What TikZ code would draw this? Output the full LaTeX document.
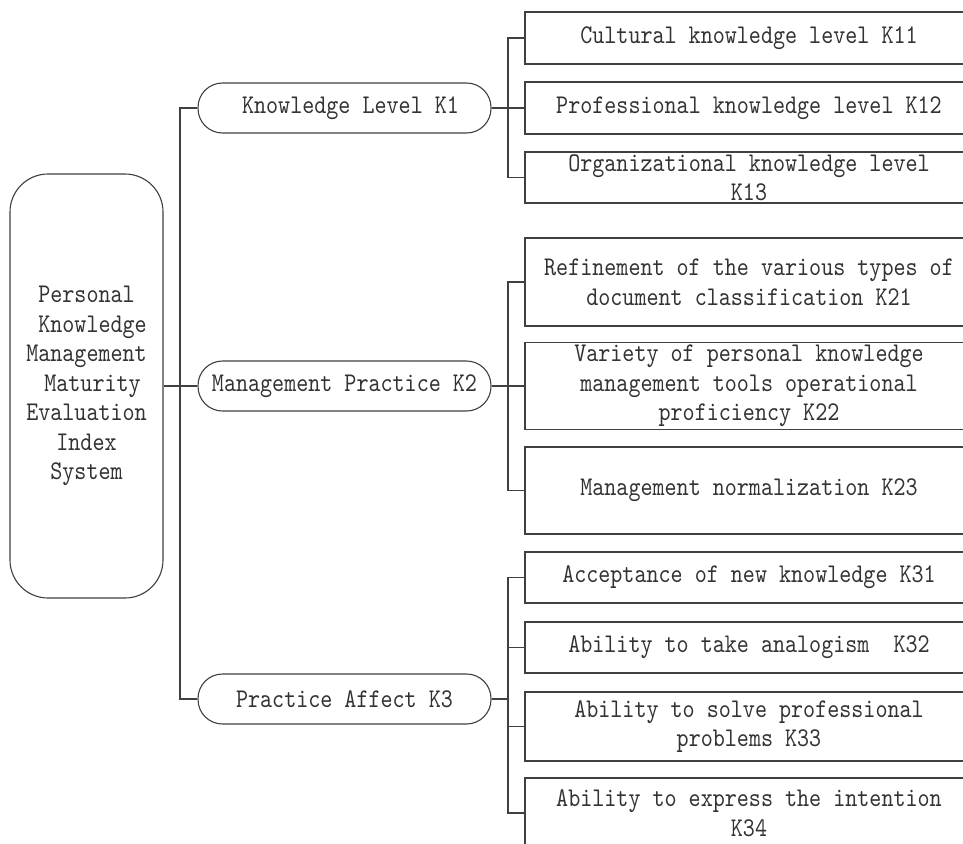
\documentclass[tikz,border=0pt]{standalone}
\usepackage{fontspec}
\newfontfamily\dfont{lmmono10-regular.otf}[FakeStretch=0.85]
\definecolor{ln}{HTML}{404040}
\definecolor{tx}{HTML}{333333}
\begin{document}
\begin{tikzpicture}[x=1pt,y=-1pt,
  base/.style={draw=ln, line width=1.1pt, inner sep=0pt, text=tx,
    font=\dfont\fontsize{27}{29.5}\selectfont, align=center},
  rootbox/.style={base, rectangle, rounded corners=38pt, minimum width=153pt, minimum height=424pt},
  midbox/.style={base, rectangle, rounded corners=24.5pt, minimum width=293pt, minimum height=50pt},
  leaf/.style={base, rectangle, minimum width=448pt},
  conn/.style={draw=ln, line width=1.1pt}]
\fill[white] (0,0) rectangle (963,843);
\useasboundingbox (0,0) rectangle (963,843);

\node[rootbox] (root) at (86.5,386) {Personal\\\phantom{K}Knowledge\\Management\\\phantom{K}Maturity\\Evaluation\\Index\\System};

\node[midbox] (K1) at (344.5,108) {\phantom{K}Knowledge Level K1};
\node[midbox] (K2) at (344.5,386) {Management Practice K2};
\node[midbox] (K3) at (344.5,699) {Practice Affect K3};

\node[leaf, minimum height=52pt] (K11) at (749,38) {Cultural knowledge level K11};
\node[leaf, minimum height=52pt] (K12) at (749,108) {Professional knowledge level K12};
\node[leaf, minimum height=51pt] (K13) at (749,177.5) {Organizational knowledge level\\K13};

\node[leaf, minimum height=88pt] (K21) at (749,282) {Refinement of the various types of\\document classification K21};
\node[leaf, minimum height=87pt] (K22) at (749,386) {Variety of personal knowledge\\management tools operational\\proficiency K22};
\node[leaf, minimum height=87pt] (K23) at (749,490.5) {Management normalization K23};

\node[leaf, minimum height=51pt] (K31) at (749,577.5) {Acceptance of new knowledge K31};
\node[leaf, minimum height=51pt] (K32) at (749,647.5) {Ability to take analogism\ \ K32};
\node[leaf, minimum height=69pt] (K33) at (749,726.5) {Ability to solve professional\\problems K33};
\node[leaf, minimum height=70pt] (K34) at (749,813) {Ability to express the intention\\K34};

\coordinate (t) at (180,386);
\coordinate (b1) at (508,108);
\coordinate (b2) at (508,386);
\coordinate (b3) at (508,699);

\draw[conn] (K1.west) -| (t) |- (K3.west);
\draw[conn] (root.east) -- (K2.west);

\draw[conn] (K11.west) -| (b1) |- (K13.west);
\draw[conn] (K1.east) -- (K12.west);

\draw[conn] (K21.west) -| (b2) |- (K23.west);
\draw[conn] (K2.east) -- (K22.west);

\draw[conn] (K31.west) -| (b3) |- (K34.west);
\draw[conn] (K3.east) -- (b3);
\draw[conn] (b3) |- (K32.west);
\draw[conn] (b3) |- (K33.west);
\end{tikzpicture}
\end{document}
